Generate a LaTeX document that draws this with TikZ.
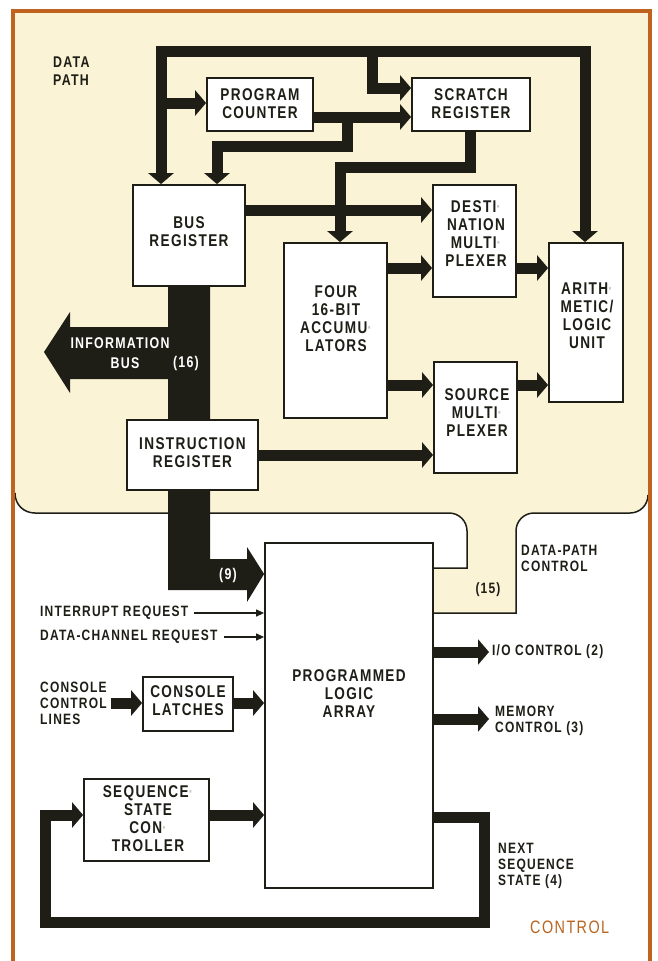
\documentclass[tikz,border=0pt]{standalone}
\usepackage{fontspec}
\setmainfont{Liberation Sans}[FakeStretch=0.8,LetterSpace=8]
\usetikzlibrary{arrows.meta,calc}
\definecolor{cream}{HTML}{FAF3D6}
\definecolor{frameor}{HTML}{C0631F}
\definecolor{ink}{HTML}{1E1E16}
\definecolor{ctl}{HTML}{B8651E}
\newcommand{\fdot}{{\color{ink!25}·}}
\begin{document}
\begin{tikzpicture}[x=1pt,y=-1pt,
  box/.style={draw=ink,line width=1.8pt,fill=white,inner sep=0pt},
  lbl/.style={font=\bfseries\fontsize{17}{18}\selectfont,align=center,text=ink,inner sep=0pt},
  side/.style={font=\bfseries\fontsize{15}{16}\selectfont,align=left,text=ink,inner sep=1pt,anchor=west},
  wlbl/.style={font=\bfseries\fontsize{15.5}{16}\selectfont,text=white,inner sep=0pt},
  bar/.style={line width=11pt,draw=ink},
  tip/.style={-{Triangle[width=25pt,length=11pt]}},
  bitip/.style={{Triangle[width=25pt,length=11pt]}-{Triangle[width=25pt,length=11pt]}},
  thinarr/.style={draw=ink,line width=1.3pt,-{Triangle[width=7pt,length=8pt]}},
  bound/.style={draw=ink,line width=1.5pt}]
\useasboundingbox (0,0) rectangle (657,961);
\fill[white] (0,0) rectangle (657,961);
% data path region
\fill[cream] (15,12) -- (648,12) -- (648,495) .. controls (648,505) and (640,513) .. (630,513)
  -- (534,513) .. controls (524,513) and (516,521) .. (516,531) -- (516,613) -- (433,613)
  -- (433,568) -- (467,568) -- (467,531) .. controls (467,521) and (459,513) .. (449,513)
  -- (35,513) .. controls (24,513) and (15,505) .. (15,493) -- cycle;
\draw[bound] (15,493) .. controls (15,505) and (24,513) .. (35,513) -- (449,513)
  .. controls (459,513) and (467,521) .. (467,531) -- (467,568) -- (433,568);
\draw[bound] (433,613) -- (516,613) -- (516,531) .. controls (516,521) and (524,513) .. (534,513)
  -- (630,513) .. controls (640,513) and (648,505) .. (648,495);
\draw[frameor,line width=3.5pt] (13,975) -- (13,11) -- (650,11) -- (650,975);

% boxes
\node[box,minimum width=106pt,minimum height=53pt] (pc) at (260,104.5) {};
\node[box,minimum width=118pt,minimum height=53pt] (scr) at (471,104.5) {};
\node[box,minimum width=112pt,minimum height=101pt] (bus) at (189,235.5) {};
\node[box,minimum width=83pt,minimum height=112pt] (dest) at (474.5,241) {};
\node[box,minimum width=103pt,minimum height=175pt] (acc) at (335.5,330.5) {};
\node[box,minimum width=74pt,minimum height=159pt] (alu) at (586,322.5) {};
\node[box,minimum width=83pt,minimum height=111pt] (src) at (475.5,417.5) {};
\node[box,minimum width=168pt,minimum height=345pt] (pla) at (349,715.5) {};
\node[box,minimum width=90pt,minimum height=54pt] (cl) at (188,704) {};
\node[box,minimum width=125pt,minimum height=82pt] (ssc) at (146.5,820) {};

% information bus band
\coordinate (ibA) at (bus.south -| 168,0);
\fill[ink] (ibA) -- (210,286) -- (210,559) -- (247,559) -- (247,547) -- (pla.west |- 0,574)
  -- (247,602) -- (247,590) -- (168,590) -- (168,379) -- (70,379) -- (70,393) -- (44,352)
  -- (70,312) -- (70,327) -- (168,327) -- cycle;
\node[box,minimum width=131pt,minimum height=70pt] (ir) at (192.5,455) {};

% data path connectors
\coordinate (topL) at (161,51.5);
\coordinate (topR) at (585,51.5);
\coordinate (scj) at (372,51.5);
\draw[bar,bitip] (bus.north -| topL) -- (topL) -- (topR) -- (alu.north -| topR);
\draw[bar,tip] (topL |- 0,103) -- (pc.west |- 0,103);
\draw[bar,tip] (scj) |- (scr.west |- 0,88);
\draw[bar,tip] (pc.east |- 0,117) -- (scr.west |- 0,117);
\draw[bar,tip] (347,117) |- (217,146) -- (bus.north -| 217,0);
\draw[bar,tip] (scr.south -| 470,0) |- (340,167) -- (acc.north -| 340,0);
\draw[bar,tip] (bus.east |- 0,210) -- (dest.west |- 0,210);
\draw[bar,tip] (acc.east |- 0,268) -- (dest.west |- 0,268);
\draw[bar,tip] (dest.east |- 0,268) -- (alu.west |- 0,268);
\draw[bar,tip] (acc.east |- 0,385) -- (src.west |- 0,385);
\draw[bar,tip] (src.east |- 0,385) -- (alu.west |- 0,385);
\draw[bar,tip] (ir.east |- 0,455) -- (src.west |- 0,455);

% box labels
\node[lbl] (tpc) at (260,104) {PROGRAM\\COUNTER};
\node[lbl] (tscr) at (471,104) {SCRATCH\\REGISTER};
\node[lbl] (tbus) at (189,232) {BUS\\REGISTER};
\node[lbl] (tdest) at (476,234) {DESTI\fdot\\NATION\\MULTI\fdot\\PLEXER};
\node[lbl] (tacc) at (336,319) {FOUR\\16-BIT\\ACCUMU\fdot\\LATORS};
\node[lbl] (talu) at (587,316) {ARITH\fdot\\METIC/\\LOGIC\\UNIT};
\node[lbl] (tsrc) at (477,413) {SOURCE\\MULTI\fdot\\PLEXER};
\node[lbl] (tir) at (192.5,452.5) {INSTRUCTION\\REGISTER};
\node[lbl] (tpla) at (349,694) {PROGRAMMED\\LOGIC\\ARRAY};
\node[lbl] (tcl) at (188,701) {CONSOLE\\LATCHES};
\node[lbl] (tssc) at (148,819) {SEQUENCE\fdot\\STATE\\CON\fdot\\TROLLER};

% bus labels
\node[wlbl] (tinf) at (120,343) {INFORMATION};
\node[wlbl] (tib) at (125,363) {BUS};
\node[wlbl] (t16) at (186,363) {(16)};
\node[wlbl] (t9) at (228,575) {(9)};

% region labels
\node[side,font=\bfseries\fontsize{15.5}{18}\selectfont] (dp) at (52,71) {DATA\\PATH};
\node[side,font=\fontsize{18}{19}\selectfont,text=ctl] (ctl) at (529,927) {CONTROL};
\node[side] (dpc) at (520,558) {DATA-PATH\\CONTROL};
\node[side,anchor=center] (n15) at (488,590) {(15)};

% control inputs
\node[side] (intr) at (39,613) {INTERRUPT REQUEST};
\node[side] (dcr) at (39,637) {DATA-CHANNEL REQUEST};
\node[side] (cons) at (39,703) {CONSOLE\\CONTROL\\LINES};
\draw[thinarr] ($(intr.east)+(5,0)$) -- (pla.west |- intr.east);
\draw[thinarr] ($(dcr.east)+(5,0)$) -- (pla.west |- dcr.east);
\draw[bar,tip] ($(cons.east)+(3,0)$) -- (cl.west |- cons.east);
\draw[bar,tip] (cl.east |- 0,703) -- (pla.west |- 0,703);
\draw[bar,tip] (ssc.east |- 0,815) -- (pla.west |- 0,815);

% control outputs
\node[side] (io) at (491,652) {I/O CONTROL (2)};
\node[side] (mem) at (494,721) {MEMORY\\CONTROL (3)};
\node[side] (nss) at (497,866) {NEXT\\SEQUENCE\\STATE (4)};
\draw[bar,tip] (pla.east |- io.west) -- (489,652);
\draw[bar,tip] (pla.east |- 0,719) -- (489,719);
\coordinate (lpR) at (484,817);
\coordinate (lpB) at (484,922);
\coordinate (lpL) at (45,922);
\draw[bar,tip] (pla.east |- lpR) -- (lpR) -- (lpB) -- (lpL) -- (lpL |- 0,815) -- (ssc.west |- 0,815);
\end{tikzpicture}
\end{document}
